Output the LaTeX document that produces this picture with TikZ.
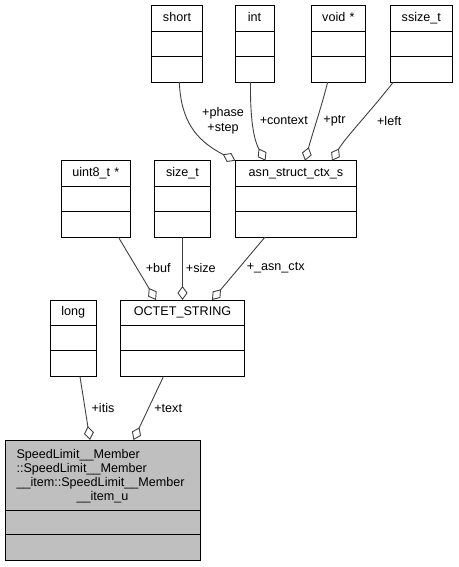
\documentclass[tikz,border=0pt]{standalone}
\usepackage{fontspec}
\setmainfont{Liberation Sans}
\usetikzlibrary{shapes.multipart,arrows.meta}
\definecolor{edgegray}{HTML}{404040}
\definecolor{mainfill}{HTML}{BFBFBF}
\newcommand{\clsbody}[1]{\rule[-9pt]{0pt}{24.5pt}\makebox[\hsize]{#1}\nodepart{second}\rule{0pt}{24.6pt}\nodepart{third}\rule{0pt}{24.6pt}}

\begin{document}
\begin{tikzpicture}[x=1pt, y=-1pt,
  cls/.style={rectangle split, rectangle split parts=3, draw=black, line width=0.9pt,
    inner ysep=0pt, inner xsep=1pt, outer sep=0pt, anchor=north west, align=center,
    font=\fontsize{12.6}{14.1}\selectfont},
  mem/.style={draw=edgegray, line width=0.9pt, -{Diamond[open, length=14pt, width=10pt]}},
  lbl/.style={font=\fontsize{12.6}{14.4}\selectfont, inner sep=0pt, align=center}]
\useasboundingbox (0,0) rectangle (458,567);

% member types
\node[cls, text width=48.6pt] (short) at (151.7,5.7) {\clsbody{short}};
\node[cls, text width=37pt] (int) at (235,5.7) {\clsbody{int}};
\node[cls, text width=52.7pt] (voidp) at (311,5.7) {\clsbody{void *}};
\node[cls, text width=60.7pt] (ssize) at (390,5.7) {\clsbody{ssize\_t}};

\node[cls, text width=67.7pt] (uint) at (61,160.7) {\clsbody{uint8\_t *}};
\node[cls, text width=54.4pt] (size) at (154.3,160.7) {\clsbody{size\_t}};
\node[cls, text width=119.4pt] (ctx) at (235.3,160.7) {\clsbody{asn\_struct\_ctx\_s}};

\node[cls, text width=44.7pt] (long) at (50,300) {\clsbody{long}};
\node[cls, text width=121.6pt] (octet) at (120.7,300) {\clsbody{OCTET\_STRING}};

% the documented struct
\node[cls, fill=mainfill, text width=172pt, inner xsep=11.5pt, align=left] (item) at (5,440)
  {\rule{0pt}{18pt}SpeedLimit\_\_Member\\
   ::SpeedLimit\_\_Member\\
   \_\_item::SpeedLimit\_\_Member\\
   \makebox[\hsize]{\_\_item\_u\rule[-8.8pt]{0pt}{8.8pt}}
   \nodepart{second}\rule{0pt}{23.6pt}
   \nodepart{third}\rule{0pt}{24.8pt}};

% members of asn_struct_ctx_s
\draw[mem] ([xshift=2.3pt]short.south) .. controls (181,120) and (195,140) .. (ctx.north west);
\draw[mem] ([xshift=-4pt]int.south) .. controls (250,125) and (255,142) .. ([xshift=-30.5pt]ctx.north);
\draw[mem] ([xshift=-10.7pt]voidp.south) .. controls (322,105) and (312,135) .. ([xshift=9pt]ctx.north);
\draw[mem] ([xshift=-28pt]ssize.south) .. controls (370,112) and (345,138) .. ([xshift=36pt]ctx.north);
\node[lbl] (lphase) at (223,120.6) {+phase\\+step};
\node[lbl] (lcontext) at (283.8,120.7) {+context};
\node[lbl] (lptr) at (334.5,120.7) {+ptr};
\node[lbl] (lleft) at (389.2,120.7) {+left};

% members of OCTET_STRING
\draw[mem] ([xshift=22.5pt]uint.south) -- ([xshift=-26.5pt]octet.north);
\draw[mem] (size.south) -- (octet.north);
\draw[mem] ([xshift=-31pt]ctx.south) -- ([xshift=29.5pt]octet.north);
\node[lbl] (lbuf) at (158.3,267.7) {+buf};
\node[lbl] (lsize) at (200.8,267.7) {+size};
\node[lbl] (lasnctx) at (275.7,267.7) {+\_asn\_ctx};

% members of the struct
\draw[mem] ([xshift=6.6pt]long.south) -- ([xshift=-12.5pt]item.north);
\draw[mem] ([xshift=-19pt]octet.south) -- ([xshift=31pt]item.north);
\node[lbl] (litis) at (103,408.3) {+itis};
\node[lbl] (ltext) at (168.2,408.3) {+text};
\end{tikzpicture}
\end{document}
